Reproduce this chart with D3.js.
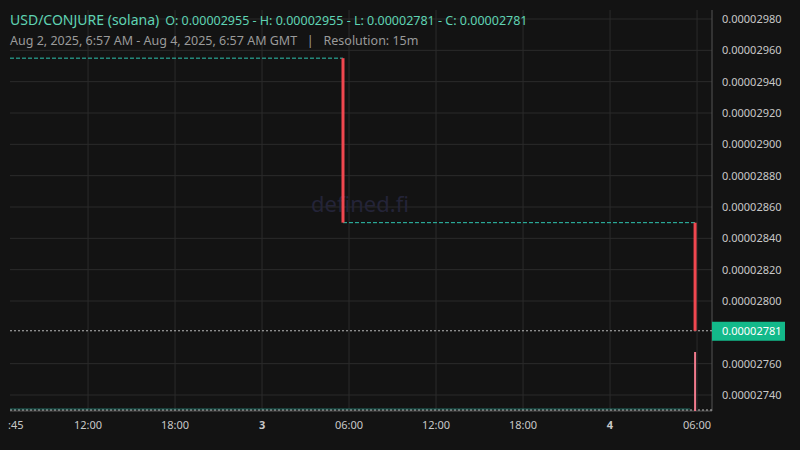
<!DOCTYPE html>
<html lang="en">
<head>
<meta charset="UTF-8" />
<style>
  body { margin: 0; background: #131313; }
  text { font-family: "Noto Sans", "Open Sans", sans-serif; white-space: pre; }
</style>
</head>
<body>
<svg id="chart" width="800" height="450"></svg>
<script src="https://d3js.org/d3.v7.min.js"></script>
<script>
// data
const priceTicks = [0.0000298, 0.0000296, 0.0000294, 0.0000292, 0.0000290, 0.0000288, 0.0000286,
  0.0000284, 0.0000282, 0.0000280, 0.0000276, 0.0000274];
const candleTimes = ["2025-08-02T06:57:00Z", "2025-08-03T05:35:00Z", "2025-08-04T05:52:00Z"];
const candleOpen  = [0.00002955, 0.00002955, 0.00002850];
const candleClose = [0.00002955, 0.00002850, 0.00002781];
const volumeTimes = ["2025-08-04T05:52:00Z"];
const volumeValues = [1];
const lastPrice = 0.00002781;

const W = 800, H = 450;
const L = 10, R = 712, T = 10, B = 411;
const svg = d3.select("#chart");

const parse = d3.isoParse;
const x = d3.scaleUtc()
  .domain([parse("2025-08-02T06:37:00Z"), parse("2025-08-04T07:02:00Z")])
  .range([L, R]);
const y = d3.scaleLinear()
  .domain([0.0000274, 0.0000298])
  .range([395, 19]);
const yv = d3.scaleLinear().domain([0, 1]).range([B, 352]);

svg.append("rect").attr("width", W).attr("height", H).attr("fill", "#131313");

// grid
const xTicks = d3.utcHour.every(6).range(x.domain()[0], x.domain()[1]);
svg.append("g").selectAll("line").data(xTicks).join("line")
  .attr("x1", d => x(d)).attr("x2", d => x(d)).attr("y1", T).attr("y2", B)
  .attr("stroke", "#2b2b2b");
svg.append("g").selectAll("line").data(priceTicks).join("line")
  .attr("x1", L).attr("x2", R).attr("y1", d => y(d)).attr("y2", d => y(d))
  .attr("stroke", "#2b2b2b");

// axes borders
svg.append("line").attr("x1", R).attr("x2", R).attr("y1", T).attr("y2", B).attr("stroke", "#555");
svg.append("line").attr("x1", L).attr("x2", R).attr("y1", B).attr("y2", B).attr("stroke", "#555");

// y tick labels
svg.append("g").selectAll("text").data(priceTicks).join("text")
  .attr("x", 722).attr("y", d => y(d)).attr("dy", "0.35em")
  .attr("fill", "#c8c8c8").attr("font-size", 11)
  .text(d => d.toFixed(8));

// x tick labels
const fmtX = d => d.getUTCHours() === 0 ? String(d.getUTCDate()) : d3.utcFormat("%H:%M")(d);
svg.append("g").selectAll("text").data(xTicks).join("text")
  .attr("x", d => x(d)).attr("y", 429).attr("text-anchor", "middle")
  .attr("fill", "#c8c8c8").attr("font-size", 11)
  .attr("font-weight", d => d.getUTCHours() === 0 ? "bold" : "normal")
  .text(fmtX);
svg.append("text").attr("x", 8).attr("y", 429).attr("fill", "#c8c8c8").attr("font-size", 11).text(":45");

// watermark
svg.append("text").attr("x", 360).attr("y", 212).attr("text-anchor", "middle")
  .attr("fill", "#242438").attr("font-size", 22).text("defined.fi");

// step line (dashed teal)
const times = candleTimes.map(parse);
for (let i = 0; i + 1 < times.length; i++) {
  const x0 = i === 0 ? L : x(times[i]);
  svg.append("line").attr("x1", x0).attr("x2", x(times[i + 1]))
    .attr("y1", y(candleClose[i])).attr("y2", y(candleClose[i]))
    .attr("stroke", "#2ec4b0").attr("stroke-width", 1).attr("stroke-dasharray", "4,2");
}

// last price line
svg.append("line").attr("x1", L).attr("x2", R).attr("y1", y(lastPrice)).attr("y2", y(lastPrice))
  .attr("stroke", "#bbb").attr("stroke-dasharray", "2,2");
svg.append("line").attr("x1", L).attr("x2", R).attr("y1", B - 1).attr("y2", B - 1)
  .attr("stroke", "#bbb").attr("stroke-dasharray", "2,2");
svg.append("line").attr("x1", L).attr("x2", 690).attr("y1", B - 2).attr("y2", B - 2)
  .attr("stroke", "#2ec4b0").attr("stroke-opacity", 0.5);

// candles
svg.append("g").selectAll("rect").data(times.slice(1)).join("rect")
  .attr("x", d => x(d) - 1.5).attr("width", 3)
  .attr("y", (d, i) => y(candleOpen[i + 1]))
  .attr("height", (d, i) => y(candleClose[i + 1]) - y(candleOpen[i + 1]))
  .attr("fill", "#f0474f");

// volume
svg.append("g").selectAll("rect").data(volumeTimes.map(parse)).join("rect")
  .attr("x", d => x(d) - 1).attr("width", 2)
  .attr("y", (d, i) => yv(volumeValues[i]))
  .attr("height", (d, i) => B - yv(volumeValues[i]))
  .attr("fill", "#f07a8c");

// price label
svg.append("rect").attr("x", R).attr("y", y(lastPrice) - 9).attr("width", 73).attr("height", 19)
  .attr("fill", "#13b98a");
svg.append("text").attr("x", 722).attr("y", y(lastPrice)).attr("dy", "0.35em")
  .attr("fill", "#fff").attr("font-size", 11).text(lastPrice.toFixed(8));

// header
const h = svg.append("text").attr("x", 10).attr("y", 25).attr("fill", "#5fd3b3");
h.append("tspan").attr("font-size", 14).text("USD/CONJURE (solana)");
h.append("tspan").attr("font-size", 12.5).attr("dx", 6)
  .text("O: 0.00002955 - H: 0.00002955 - L: 0.00002781 - C: 0.00002781");
svg.append("text").attr("x", 10).attr("y", 45).attr("fill", "#9a9a9a").attr("font-size", 12.5)
  .text("Aug 2, 2025, 6:57 AM - Aug 4, 2025, 6:57 AM GMT   |   Resolution: 15m");
</script>
</body>
</html>
